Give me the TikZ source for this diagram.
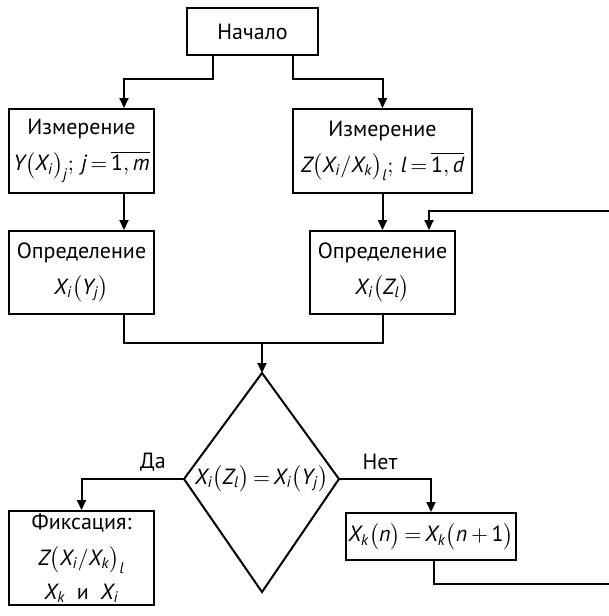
\documentclass[tikz,border=0pt]{standalone}
\usepackage{amsmath}
\usepackage{fontspec}
\setmainfont{PT Sans}
\usetikzlibrary{arrows.meta,calc}
\newcommand{\mv}[1]{\textit{#1}}
\newcommand{\mup}[1]{\textup{#1}}
\newcommand{\eqs}{\,{=}\,}
\begin{document}
\begin{tikzpicture}[x=0.5pt,y=-0.5pt,
  box/.style={draw,line width=1pt,inner sep=1pt,align=center,font=\fontsize{11}{14}\selectfont},
  arr/.style={line width=1pt,-{Triangle[length=5pt,width=4.5pt]}},
  ln/.style={line width=1pt},
  lbl/.style={font=\fontsize{11}{13}\selectfont}]
\useasboundingbox (0,0) rectangle (609,616);
\node[box,minimum width=65.5pt,minimum height=23.5pt] (start) at (252.5,31.5) {Начало};
\node[box,minimum width=72.5pt,minimum height=42pt] (m1) at (81.5,151)
  {Измерение\\[4pt] $\mv{Y}\bigl(\mv{X}_{\mv{i}}\bigr)_{\mv{j}};\,\mv{j}\eqs\overline{\mup{1},\mv{m}}$};
\node[box,minimum width=89.5pt,minimum height=42pt] (m2) at (382.5,151)
  {Измерение\\[4pt] $\mv{Z}\bigl(\mv{X}_{\mv{i}}/\mv{X}_{\mv{k}}\bigr)_{\mv{l}};\,\mv{l}\eqs\overline{\mup{1},\mv{d}}$};
\node[box,minimum width=72.5pt,minimum height=41.5pt] (o1) at (81.5,272.5)
  {Определение\\[4pt] $\mv{X}_{\mv{i}}\bigl(\mv{Y}_{\mv{j}}\bigr)$};
\node[box,minimum width=72.5pt,minimum height=41.5pt] (o2) at (382.5,272.5)
  {Определение\\[4pt] $\mv{X}_{\mv{i}}\bigl(\mv{Z}_{\mv{l}}\bigr)$};
\node[box,minimum width=72.5pt,minimum height=47pt] (fix) at (81.5,558)
  {Фиксация:\\[4pt] $\mv{Z}\bigl(\mv{X}_{\mv{i}}/\mv{X}_{\mv{k}}\bigr)_{\mv{l}}$\\[3pt] $\mv{X}_{\mv{k}}$ \ и \ $\mv{X}_{\mv{i}}$};
\node[box,minimum width=82pt,minimum height=23.5pt] (xk) at (431,536.5)
  {$\mv{X}_{\mv{k}}\bigl(\mv{n}\bigr)\eqs\mv{X}_{\mv{k}}\bigl(\mv{n}\,{+}\,\mup{1}\bigr)$};
% decision
\coordinate (dt) at (262,373);
\coordinate (dl) at (184,479);
\coordinate (db) at (262,592);
\coordinate (dr) at (339,479);
\draw[ln,line join=miter] (dt) -- (dl) -- (db) -- (dr) -- cycle;
\node[font=\fontsize{11}{13}\selectfont,inner sep=0pt] (cond) at (261.5,479)
  {$\mv{X}_{\mv{i}}\bigl(\mv{Z}_{\mv{l}}\bigr)\eqs\mv{X}_{\mv{i}}\bigl(\mv{Y}_{\mv{j}}\bigr)$};
\node[lbl] (da) at (153,462) {Да};
\node[lbl] (net) at (380,462) {Нет};
\coordinate (mj) at (262,343);
\coordinate (fbin) at (609,211);
\coordinate (fbout) at (609,584);
% connectors
\draw[arr] ([xshift=-19.75pt]start.south) -- ++(0,23) -| ([xshift=21.25pt]m1.north);
\draw[arr] ([xshift=20.25pt]start.south) -- ++(0,23) -| (m2.north);
\draw[arr] ([xshift=21.25pt]m1.south) -- ([xshift=21.25pt]o1.north);
\draw[arr] (m2.south) -- (o2.north);
\draw[arr] (fbin) -| ([xshift=23.25pt]o2.north);
\draw[ln] ([xshift=21.25pt]o1.south) |- (mj) -| (o2.south);
\draw[arr] (mj) -- (dt);
\draw[arr] (dl) -| (fix.north);
\draw[arr] (dr) -| (xk.north);
\draw[ln] ([xshift=1.5pt]xk.south) |- (fbout);
\end{tikzpicture}
\end{document}
